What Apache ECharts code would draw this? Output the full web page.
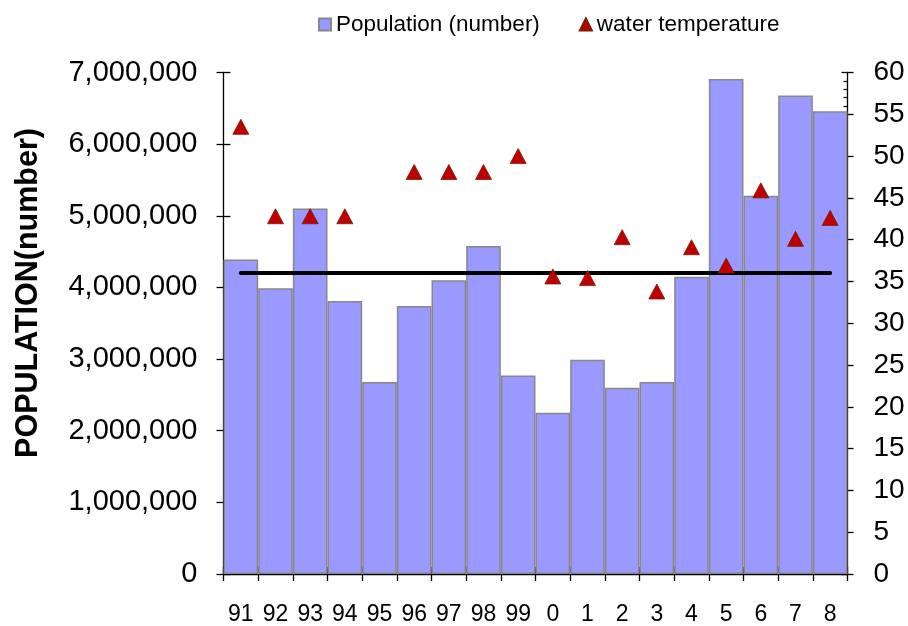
<!DOCTYPE html>
<html>
<head>
<meta charset="utf-8">
<script src="https://cdn.jsdelivr.net/npm/echarts@6/dist/echarts.min.js"></script>
<style>
  html, body { margin: 0; padding: 0; background: #fff; }
  #chart { width: 908px; height: 626px; }
</style>
</head>
<body>
<div id="chart"></div>
<script>
// Year labels (19xx then 20xx)
const categories = ['91','92','93','94','95','96','97','98','99','0','1','2','3','4','5','6','7','8'];
// Population per year (number)
const population = [4390000, 3990000, 5100000, 3810000, 2680000, 3740000, 4100000, 4580000, 2770000,
                    2250000, 2990000, 2600000, 2680000, 4150000, 6910000, 5280000, 6680000, 6460000];
// Water temperature per year (no reading for 95)
const waterTemp = [53.5, 42.8, 42.8, 42.8, null, 48.1, 48.1, 48.1, 50.0,
                   35.6, 35.4, 40.3, 33.8, 39.1, 36.9, 45.9, 40.1, 42.6];
// Reference level on the temperature scale
const referenceTemp = 36;
// Axis ranges
const popMax = 7000000, popStep = 1000000;
const tempMax = 60, tempStep = 5;

const FONT = "'Liberation Sans', Arial, sans-serif";
const chart = echarts.init(document.getElementById('chart'), null, { renderer: 'canvas' });

const axisBlack = { lineStyle: { color: '#000', width: 1.3 } };

chart.setOption({
  animation: false,
  backgroundColor: '#fff',
  textStyle: { fontFamily: FONT, color: '#000' },
  grid: { left: 223.5, right: 60.5, top: 72.5, bottom: 46.5, containLabel: false },
  legend: {
    left: 318, top: 13, padding: 0,
    itemWidth: 12, itemHeight: 12, itemGap: 39,
    textStyle: { fontFamily: FONT, fontSize: 22.5, color: '#000' },
    data: [
      { name: 'Population (number)', icon: 'rect' },
      { name: 'water temperature', icon: 'triangle' }
    ]
  },
  graphic: [{
    type: 'text',
    x: 29, y: 293, rotation: Math.PI / 2,
    style: {
      text: 'POPULATION(number)',
      font: "bold 30.5px " + FONT,
      fill: '#000',
      textAlign: 'center', textVerticalAlign: 'middle'
    }
  }],
  xAxis: [
    {
      type: 'category', data: categories, position: 'bottom',
      axisLine: axisBlack,
      axisTick: { show: true, inside: false, length: 7, lineStyle: { color: '#000', width: 1.3 } },
      axisLabel: { fontFamily: FONT, fontSize: 23, color: '#000', margin: 29, interval: 0 }
    },
    {
      type: 'category', data: categories, position: 'bottom',
      axisLine: { show: false },
      axisTick: { show: true, inside: true, length: 7, lineStyle: { color: '#000', width: 1.3 } },
      axisLabel: { show: false }
    }
  ],
  yAxis: [
    {
      type: 'value', position: 'left', min: 0, max: popMax, interval: popStep,
      axisLine: { show: true, lineStyle: { color: '#000', width: 1.3 } },
      axisTick: { show: true, inside: false, length: 7, lineStyle: { color: '#000', width: 1.3 } },
      splitLine: { show: false },
      axisLabel: {
        fontFamily: FONT, fontSize: 29, color: '#000', margin: 26,
        formatter: v => v.toLocaleString('en-US')
      }
    },
    {
      type: 'value', position: 'right', min: 0, max: tempMax, interval: tempStep,
      axisLine: { show: true, lineStyle: { color: '#000', width: 1.3 } },
      axisTick: { show: true, inside: false, length: 6, lineStyle: { color: '#000', width: 1.3 } },
      splitLine: { show: false },
      axisLabel: { fontFamily: FONT, fontSize: 28, color: '#000', margin: 26 }
    },
    {
      type: 'value', position: 'left', min: 0, max: popMax, interval: popStep,
      axisLine: { show: false },
      axisTick: { show: true, inside: true, length: 7, lineStyle: { color: '#000', width: 1.3 } },
      splitLine: { show: false },
      axisLabel: { show: false }
    },
    {
      type: 'value', position: 'right', min: 0, max: tempMax, interval: tempStep,
      axisLine: { show: false },
      axisTick: { show: true, inside: true, length: 6, lineStyle: { color: '#000', width: 1.3 } },
      minorTick: { show: true, splitNumber: 5, length: 4, lineStyle: { color: '#000', width: 1.2 } },
      splitLine: { show: false },
      axisLabel: { show: false }
    }
  ],
  series: [
    {
      name: 'Population (number)', type: 'bar', xAxisIndex: 0, yAxisIndex: 0,
      data: population, barCategoryGap: '0%',
      itemStyle: { color: '#9999FF', borderColor: '#888888', borderWidth: 1.5 },
      z: 2
    },
    {
      name: 'reference', type: 'line', xAxisIndex: 0, yAxisIndex: 1,
      data: categories.map(() => referenceTemp),
      symbol: 'none', lineStyle: { color: '#000', width: 4, cap: 'round' },
      z: 3
    },
    {
      name: 'water temperature', type: 'scatter', xAxisIndex: 0, yAxisIndex: 1,
      data: waterTemp, symbol: 'triangle', symbolSize: [16, 15],
      itemStyle: { color: '#C00000', borderColor: '#7a1a00', borderWidth: 0.8, opacity: 1 },
      z: 4
    }
  ]
});
</script>
</body>
</html>
